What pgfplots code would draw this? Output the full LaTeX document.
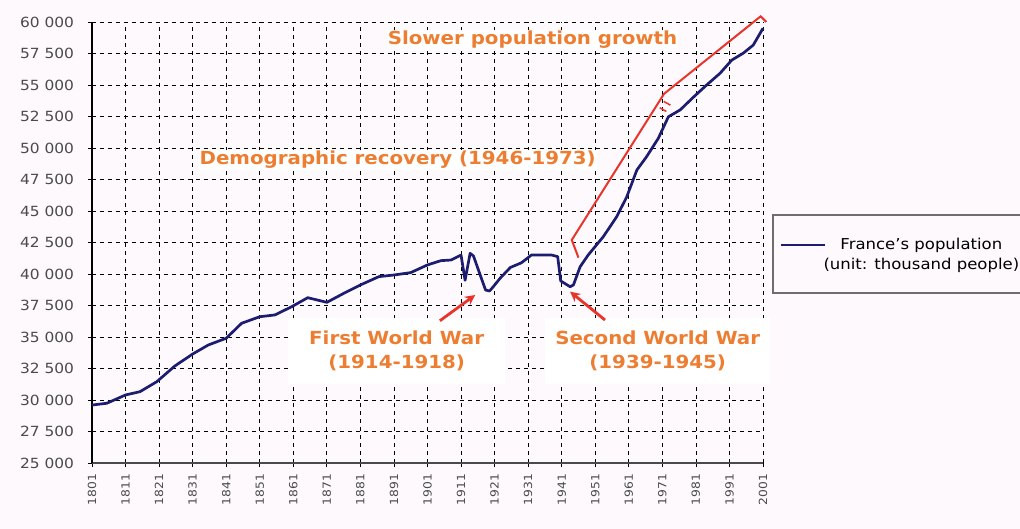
\documentclass[border=0pt]{standalone}
\usepackage{fontspec}
\setmainfont{DejaVu Sans}[FakeStretch=1.1]
\usepackage{pgfplots}
\usepackage{pgfplotstable}
\pgfplotsset{compat=1.18}
\usetikzlibrary{arrows.meta}

\definecolor{popblue}{RGB}{28,28,112}
\definecolor{annorange}{RGB}{237,125,49}
\definecolor{annred}{RGB}{232,52,42}
\definecolor{tickgray}{RGB}{75,75,75}
\definecolor{bgcol}{RGB}{253,249,253}
\definecolor{boxgray}{RGB}{110,110,110}

\pgfplotstableread{
year pop
1801 29600
1805.4 29740
1811 30400
1815.3 30660
1820.3 31450
1825.7 32700
1831 33650
1835.7 34370
1841 34900
1845.6 36090
1851 36610
1855.5 36750
1860.5 37400
1865.3 38120
1871 37750
1876 38460
1881 39130
1886.5 39790
1891 39920
1896 40110
1901 40720
1905 41060
1908 41110
1911 41500
1912.2 39500
1913.7 41640
1914.7 41430
1918.3 38730
1919.5 38650
1920.6 38990
1922.6 39650
1925.7 40520
1929 40890
1932 41510
1937.9 41510
1939.8 41380
1940.7 39450
1943.5 38990
1944.5 39130
1946.5 40580
1948.9 41510
1953.4 42960
1957.4 44550
1960.4 46130
1963.4 48250
1966.3 49310
1969.8 50770
1972.8 52480
1976.3 53020
1980.2 54020
1984.2 55000
1988.2 55930
1991.7 56980
1995.1 57520
1998.1 58170
2001 59500
}\popdata

\newcommand{\annfont}{\fontsize{18bp}{24bp}\selectfont\bfseries}

\begin{document}
\begin{tikzpicture}
\fill[bgcol] (-92bp,-66bp) rectangle (928bp,463bp);
\useasboundingbox (-92bp,-66bp) rectangle (928bp,463bp);
\begin{axis}[
    scale only axis,
    width=671bp,
    height=441bp,
    xmin=1801, xmax=2001,
    ymin=25000, ymax=60000,
    xtick={1801,1811,...,2001},
    ytick={25000,27500,...,60000},
    scaled ticks=false,
    axis x line=bottom,
    axis y line=left,
    x axis line style={-, draw=tickgray, line width=1.3bp},
    y axis line style={-, draw=black, line width=1.3bp},
    grid=major,
    major grid style={black, line width=0.8bp, dash pattern=on 4bp off 4bp},
    tick style={black, line width=0.8bp},
    major tick length=7bp,
    tick align=center,
    clip=false,
    /pgf/number format/assume math mode=true,
    yticklabel style={font=\fontsize{14bp}{16bp}\selectfont, text=tickgray, xshift=-11bp,
        /pgf/number format/fixed, /pgf/number format/1000 sep={\ }},
    xticklabel style={font=\fontsize{11.2bp}{12bp}\selectfont, text=tickgray, rotate=90, anchor=east, xshift=-4bp,
        /pgf/number format/1000 sep={}},
]
\addplot[popblue, line width=2.7bp, line join=round] table[x=year, y=pop] {\popdata};

\addplot[annred, line width=2bp] coordinates {
    (1946,41300) (1944,42700) (1971.5,54300) (2000.3,60450) (2002,60000)
};
\addplot[annred, line width=1.5bp] coordinates {(1970.2,53200) (1972.2,52900)};
\addplot[annred, line width=1.5bp] coordinates {(1971.4,53700) (1973.4,53400)};

\node[fill=white, inner sep=1bp, text=annorange, font=\annfont] at (axis cs:1932.3,58571) {Slower population growth};
\node[fill=white, inner sep=1bp, text=annorange, font=\annfont] at (axis cs:1892.1,49047) {Demographic recovery (1946-1973)};
\node[fill=white, minimum width=217bp, minimum height=66bp, align=center, text=annorange, font=\annfont] at (axis cs:1891.8,33888) {First World War\\(1914-1918)};
\node[fill=white, minimum width=225bp, minimum height=66bp, align=center, text=annorange, font=\annfont] at (axis cs:1969.6,33888) {Second World War\\(1939-1945)};

\draw[annred, line width=2.8bp, -{Stealth[length=10bp,width=10bp]}] (axis cs:1904.7,36290) -- (axis cs:1915.2,38330);
\draw[annred, line width=2.8bp, -{Stealth[length=10bp,width=10bp]}] (axis cs:1953.9,36350) -- (axis cs:1943.5,38600);

\draw[boxgray, line width=1.3bp] (rel axis cs:1.0149,0.5624) rectangle (rel axis cs:1.45,0.3855);
\draw[popblue, line width=2.2bp] (rel axis cs:1.0268,0.4943) -- (rel axis cs:1.0924,0.4943);
\node[align=center, inner sep=0, font=\fontsize{15bp}{20bp}\selectfont] at (rel axis cs:1.236,0.4717) {France's population\\(unit: thousand people)};
\end{axis}
\end{tikzpicture}
\end{document}
